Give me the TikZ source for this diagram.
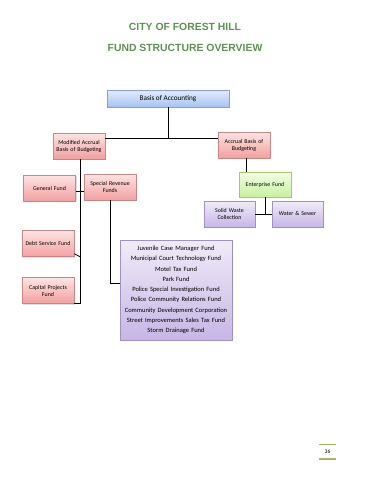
\documentclass[tikz,border=0pt]{standalone}
\usepackage{fontspec}
\setmainfont{Carlito}
\newfontfamily\titlefont{Liberation Sans}
\usetikzlibrary{shadows}
\definecolor{titlegreen}{RGB}{92,146,82}
\definecolor{pagegreen}{RGB}{160,190,95}
\definecolor{pinkline}{RGB}{200,135,135}
\definecolor{pinktop}{RGB}{255,228,228}
\definecolor{pinkbot}{RGB}{242,160,160}
\definecolor{blueline}{RGB}{135,160,205}
\definecolor{bluetop}{RGB}{228,236,252}
\definecolor{bluebot}{RGB}{165,195,242}
\definecolor{greenline}{RGB}{165,200,120}
\definecolor{greentop}{RGB}{242,255,228}
\definecolor{greenbot}{RGB}{200,240,160}
\definecolor{purpleline}{RGB}{160,145,195}
\definecolor{purpletop}{RGB}{240,235,248}
\definecolor{purplebot}{RGB}{198,182,230}
\begin{document}
\begin{tikzpicture}[x = 1pt, y = -1pt,
  box/.style = {draw, line width = 0.4pt, align = center, inner sep = 1pt,
    font = \fontsize{5.9}{7}\selectfont,
    drop shadow = {shadow xshift = 1pt, shadow yshift = -1pt, opacity = 0.25}},
  pinkbox/.style = {box, draw = pinkline, top color = pinktop, bottom color = pinkbot,
    minimum width = 52, minimum height = 26, text width = 50},
  bluebox/.style = {box, draw = blueline, top color = bluetop, bottom color = bluebot,
    minimum width = 122, minimum height = 17, font = \fontsize{7.2}{8}\selectfont},
  greenbox/.style = {box, draw = greenline, top color = greentop, bottom color = greenbot,
    minimum width = 52, minimum height = 25, text width = 50},
  purplebox/.style = {box, draw = purpleline, top color = purpletop, bottom color = purplebot,
    minimum width = 51, minimum height = 26, text width = 49},
  link/.style = {line width = 0.8pt}]
\useasboundingbox (0,0) rectangle (370,480);
% titles
\node[titlegreen, font = \titlefont\bfseries\fontsize{10.4}{12}\selectfont] at (185,27) (t1) {CITY OF FOREST HILL};
\node[titlegreen, font = \titlefont\bfseries\fontsize{10.4}{12}\selectfont] at (185,48) (t2) {FUND STRUCTURE OVERVIEW};
% boxes
\node[bluebox] at (168,98.5) (basis) {Basis of Accounting};
\node[pinkbox] at (79,146) (mab) {Modified Accrual\\Basis of Budgeting};
\node[pinkbox] at (244,145) (ab) {Accrual Basis of\\Budgeting};
\node[pinkbox] at (49.5,188) (gf) {General Fund};
\node[pinkbox] at (110,187) (srf) {Special Revenue\\Funds};
\node[pinkbox] at (48,243.5) (dsf) {Debt Service Fund};
\node[pinkbox] at (48,290.5) (cpf) {Capital Projects\\Fund};
\node[greenbox] at (265,184.5) (ef) {Enterprise Fund};
\node[purplebox] at (229.5,214) (sw) {Solid Waste\\Collection};
\node[purplebox] at (297.5,214) (ws) {Water \& Sewer};
\node[box, draw = purpleline, top color = purpletop, bottom color = purplebot,
  minimum width = 110, minimum height = 100, text width = 110,
  font = \fontsize{6.5}{10.25}\selectfont] at (176,290) (list)
  {Juvenile Case Manager Fund\\Municipal Court Technology Fund\\Motel Tax Fund\\Park Fund\\
   Police Special Investigation Fund\\Police Community Relations Fund\\
   Community Development Corporation\\Street Improvements Sales Tax Fund\\Storm Drainage Fund};
% connectors
\coordinate (j1) at (168,138);
\draw[link] (basis) -- (j1);
\draw[link] (mab.east |- j1) -- (ab.west |- j1);
\draw[link] ([xshift = 1pt]mab.south) -- ([xshift = 1pt]mab.south |- cpf.south) -- (cpf.south east);
\draw[link] ([yshift = 3pt]dsf.south east) -- ([xshift = 1pt]mab.south |- dsf.south) ++(0,-3);
\draw[link] ([yshift = -3pt]gf.east) -- ([yshift = -3pt]gf.east -| srf.west);
\draw[link] (srf.south) |- ([yshift = 7pt]list.west);
\draw[link] ([xshift = 2pt]ab.south) -- ([xshift = 2pt]ab.south |- ef.north);
\draw[link] (ef.south) -- (ef.south |- sw.east);
\draw[link] (sw.east) -- (ws.west);
% page number
\node[font = \fontsize{5.5}{6}\selectfont] at (327.5,452) (pg) {36};
\draw[pagegreen, line width = 0.5pt] (319,444) -- (336,444);
\draw[pagegreen, line width = 1.5pt] (319,459) -- (336,459);
\end{tikzpicture}
\end{document}
